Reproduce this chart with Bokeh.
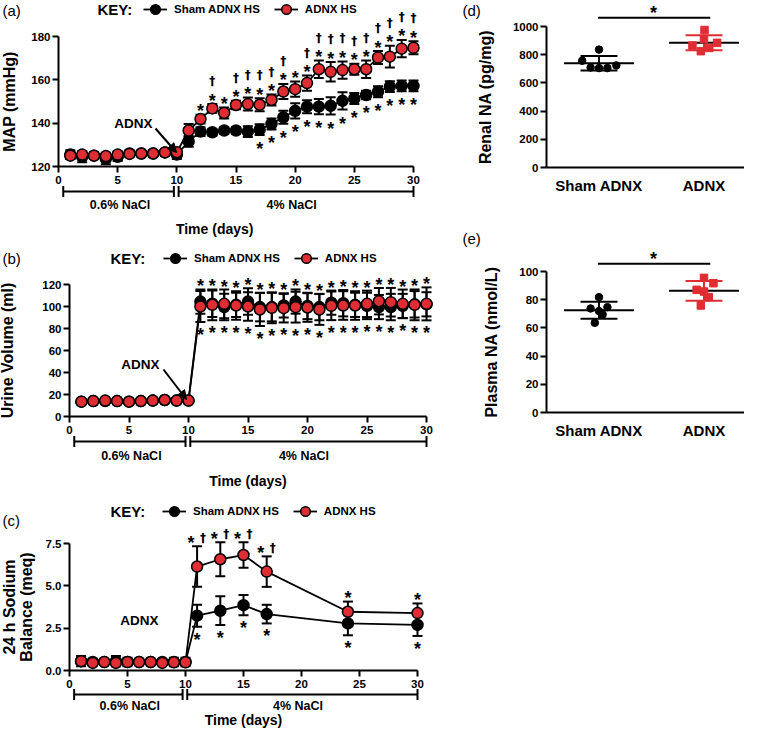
import numpy as np
from bokeh.plotting import figure
from bokeh.models import (Range1d, LinearAxis, FixedTicker, PrintfTickFormatter,
                          Label, Legend, LegendItem, Arrow, NormalHead)
from bokeh.layouts import row, column
from bokeh.core.properties import value
from bokeh.embed import file_html
from bokeh.resources import INLINE

FONT = "Liberation Sans"
DAGGER_FONT = "DejaVu Sans"
RED = "#de2d33"

# ------------------------------------------------------------------ data
days = list(range(1, 31))
time_ticks = [0, 5, 10, 15, 20, 25, 30]
series_names = ["Sham ADNX HS", "ADNX HS"]

# (a) MAP (mmHg)
map_sham = [125.5, 124.5, 125.0, 123.5, 124.5, 126.0, 126.0, 126.0, 126.5, 125.5,
            131.6, 136.1, 135.8, 136.6, 136.6, 136.1, 137.0, 139.6, 142.7, 145.7,
            147.6, 147.6, 148.0, 150.3, 151.4, 153.0, 154.5, 156.9, 157.2, 157.2]
map_sham_err = [2.0, 2.5, 1.5, 2.5, 2.0, 1.5, 1.0, 1.5, 1.5, 2.0,
                2.5, 2.0, 1.5, 1.5, 1.5, 2.5, 2.5, 2.5, 3.0, 3.5,
                3.0, 3.5, 4.0, 4.0, 2.5, 2.0, 2.5, 2.5, 2.5, 2.5]
map_adnx = [125.0, 125.5, 125.0, 124.8, 125.5, 125.8, 126.0, 126.0, 126.5, 126.6,
            136.6, 141.9, 146.8, 144.7, 148.4, 148.8, 148.5, 150.7, 154.6, 155.7,
            158.5, 164.9, 163.7, 164.5, 164.9, 164.9, 170.3, 170.7, 174.4, 174.8]
map_adnx_err = [1.5, 1.5, 1.0, 1.5, 1.5, 1.0, 1.0, 1.0, 1.0, 1.5,
                3.0, 2.0, 2.0, 2.5, 2.0, 3.0, 3.0, 2.5, 3.5, 3.5,
                3.5, 4.0, 4.5, 4.0, 2.5, 4.0, 3.0, 5.0, 4.0, 3.0]
map_star_adnx = [12, 13, 14, 15, 16, 17, 18, 19, 20, 21, 22, 23, 24, 25, 26, 27, 28, 29, 30]
map_dagger_adnx = [13, 15, 16, 17, 18, 19, 21, 22, 23, 24, 25, 26, 27, 28, 29, 30]
map_star_sham = [17, 18, 19, 20, 21, 22, 23, 24, 25, 26, 27, 28, 29, 30]

# (b) Urine volume (ml)
uv_sham = [13.5, 14.0, 14.0, 14.0, 13.5, 14.0, 14.5, 15.0, 14.5, 14.5,
           104.5, 102.5, 99.5, 101.5, 104.5, 99.5, 99.5, 101.0, 104.5, 100.5,
           99.5, 103.5, 103.0, 101.5, 100.5, 99.5, 99.5, 100.5, 102.0, 102.0]
uv_sham_err = [1.0, 1.0, 1.0, 1.0, 1.0, 1.0, 1.0, 1.0, 1.0, 1.0,
               11.0, 12.0, 12.0, 11.0, 12.0, 13.0, 13.0, 11.0, 11.0, 12.0,
               12.0, 11.0, 12.0, 11.0, 12.0, 11.0, 12.0, 11.0, 12.0, 11.0]
uv_adnx = [13.5, 14.0, 14.5, 14.0, 13.5, 14.0, 14.5, 15.0, 14.5, 14.5,
           100.0, 101.5, 102.4, 100.9, 100.0, 97.3, 98.8, 98.5, 99.4, 99.1,
           97.3, 100.6, 100.9, 100.9, 102.4, 104.8, 103.9, 102.4, 101.5, 102.4]
uv_adnx_err = [1.0, 1.0, 1.0, 1.0, 1.0, 1.0, 1.0, 1.0, 1.0, 1.0,
               14.0, 14.0, 13.0, 13.0, 13.0, 15.0, 14.0, 13.0, 14.0, 13.0,
               14.0, 13.0, 13.0, 13.0, 12.0, 12.0, 13.0, 13.0, 14.0, 15.0]
uv_star_days = [11, 12, 13, 14, 15, 16, 17, 18, 19, 20, 21, 22, 23, 24, 25, 26, 27, 28, 29, 30]

# (c) 24 h sodium balance (meq)
na_days = [1, 2, 3, 4, 5, 6, 7, 8, 9, 10, 11, 13, 15, 17, 24, 30]
na_sham = [0.55, 0.50, 0.50, 0.55, 0.50, 0.50, 0.50, 0.50, 0.50, 0.50, 3.24, 3.53, 3.86, 3.33, 2.78, 2.69]
na_sham_err = [0.30, 0.20, 0.15, 0.30, 0.25, 0.15, 0.15, 0.15, 0.25, 0.25, 0.65, 0.85, 0.60, 0.55, 0.70, 0.65]
na_adnx = [0.55, 0.45, 0.50, 0.45, 0.50, 0.50, 0.50, 0.45, 0.48, 0.48, 6.14, 6.57, 6.82, 5.84, 3.47, 3.39]
na_adnx_err = [0.15, 0.10, 0.10, 0.15, 0.10, 0.10, 0.10, 0.10, 0.15, 0.15, 1.20, 1.00, 0.75, 0.90, 0.60, 0.57]
na_star_dagger_adnx = [11, 13, 15, 17]
na_star_adnx = [24, 30]
na_star_sham = [11, 13, 15, 17, 24, 30]

# (d), (e) scatter groups
groups = ["Sham ADNX", "ADNX"]
renal_sham = [836, 757, 709, 705, 705, 724]
renal_adnx = [975, 910, 865, 825, 848, 884]
plasma_sham = [81.8, 73.8, 74.7, 71.9, 69.5, 63.6]
plasma_adnx = [95.5, 91.7, 87.0, 85.8, 81.8, 75.9]
renal_sig_level = 1062
plasma_sig_level = 105.5

# layout-only: horizontal spread of dots inside each group
renal_sham_dx = [0.0, -0.16, -0.08, 0.0, 0.08, 0.165]
renal_adnx_dx = [0.005, 0.0, -0.11, -0.03, 0.05, 0.125]
plasma_sham_dx = [0.0, -0.08, 0.08, 0.0, 0.035, -0.04]
plasma_adnx_dx = [0.0, 0.09, -0.07, 0.0, 0.045, -0.03]

phases = ["0.6% NaCl", "4% NaCl"]
phase_spans = [(0.4, 9.75), (10.15, 30.0)]
phase_label_x = [5.2, 19.7]


# ------------------------------------------------------------------ geometry helper
class Geo:
    """Maps page pixels to data for a figure whose frame fills the canvas."""
    def __init__(self, left, top, w, h, xp, yp):
        (px0, v0), (px1, v1) = xp
        (py0, u0), (py1, u1) = yp
        self.kx = (px1 - px0) / (v1 - v0)
        self.ky = (py1 - py0) / (u1 - u0)
        self.xp0, self.xv0, self.yp0, self.yv0 = px0, v0, py0, u0
        self.left, self.top, self.w, self.h = left, top, w, h

    def xv(self, px):
        return self.xv0 + (px - self.xp0) / self.kx

    def yv(self, py):
        return self.yv0 + (py - self.yp0) / self.ky

    def sx(self, px):
        return px - self.left

    def sy(self, py):
        return self.top + self.h - py

    def fig(self):
        p = figure(width=self.w, height=self.h,
                   x_range=Range1d(self.xv(self.left), self.xv(self.left + self.w)),
                   y_range=Range1d(self.yv(self.top + self.h), self.yv(self.top)),
                   output_backend="svg", toolbar_location=None, min_border=0,
                   x_axis_location=None, y_axis_location=None,
                   outline_line_color=None, background_fill_color="white",
                   border_fill_color="white")
        for g in p.grid:
            g.visible = False
        return p


def style_axis(ax, label_size="16px"):
    ax.axis_line_width = 2
    ax.axis_line_color = "black"
    ax.major_tick_line_width = 2
    ax.major_tick_line_color = "black"
    ax.major_tick_out = 6
    ax.major_tick_in = 0
    ax.minor_tick_line_color = None
    ax.major_label_text_font = FONT
    ax.major_label_text_font_style = "bold"
    ax.major_label_text_font_size = "11.5px"
    ax.major_label_text_color = "black"
    ax.major_label_standoff = 2
    ax.axis_label_text_font = FONT
    ax.axis_label_text_font_style = "bold"
    ax.axis_label_text_font_size = label_size
    ax.axis_label_text_color = "black"


def txt_label(p, x, y, text, size, style="bold", align="left", units="screen"):
    p.add_layout(Label(x=x, y=y, x_units=units, y_units=units, text=text,
                       text_font=FONT, text_font_size=size, text_font_style=style,
                       text_align=align, text_baseline="middle", text_color="black"))


def series(p, x, y, e, fill):
    lo = [a - b for a, b in zip(y, e)]
    hi = [a + b for a, b in zip(y, e)]
    p.segment(x0=x, y0=lo, x1=x, y1=hi, line_color="black", line_width=2)
    p.scatter(x=list(x) + list(x), y=lo + hi, marker="dash", size=10,
              line_color="black", line_width=2)
    ln = p.line(x=x, y=y, line_color="black", line_width=1.8)
    sc = p.scatter(x=x, y=y, marker="circle", size=11, fill_color=fill,
                   line_color="black", line_width=1.5)
    return ln, sc


def marks(p, x, y, t, yoff, xoff=0, size="18px", style="bold", font=FONT):
    p.text(x=x, y=y, text=[t] * len(x), text_align="center", text_baseline="middle",
           x_offset=xoff, y_offset=yoff, text_font=value(font), text_font_size=size,
           text_font_style=style, text_color="black")


def pick(xs, vals, errs, chosen, sign):
    idx = [xs.index(d) for d in chosen]
    return [xs[i] for i in idx], [vals[i] + sign * errs[i] for i in idx]


def time_panel(g, tag, x, s, se, r, re, yticks, ybounds, ylabel, ylab_standoff,
               key_y, key_x, leg_x, tag_y, bracket_py, phase_py, xlabel=None,
               xlabel_standoff=36, fmt=None):
    p = g.fig()
    xa = LinearAxis(fixed_location=ybounds[0], ticker=FixedTicker(ticks=time_ticks),
                    bounds=(0, 30))
    style_axis(xa, "14px")
    xa.major_label_standoff = 3
    if xlabel:
        xa.axis_label = xlabel
        xa.axis_label_standoff = xlabel_standoff
    p.add_layout(xa, "below")
    ya = LinearAxis(fixed_location=0, ticker=FixedTicker(ticks=yticks), bounds=ybounds,
                    axis_label=ylabel, axis_label_standoff=ylab_standoff)
    style_axis(ya)
    ya.axis_label_text_line_height = 1.0
    if fmt:
        ya.formatter = PrintfTickFormatter(format=fmt)
    p.add_layout(ya, "left")

    sl, ss = series(p, x, s, se, "black")
    rl, rs = series(p, x, r, re, RED)

    # phase brackets below the axis
    by = g.yv(bracket_py)
    for a, b in phase_spans:
        p.segment(x0=[a], y0=[by], x1=[b], y1=[by], line_color="black", line_width=2)
        p.scatter(x=[a, b], y=[by, by], marker="dash", angle=np.pi / 2, size=11,
                  line_color="black", line_width=2)
    p.text(x=phase_label_x, y=[g.yv(phase_py)] * 2, text=phases, text_align="center",
           text_baseline="middle", text_font=value(FONT), text_font_size="12.5px",
           text_font_style="bold", text_color="black")

    # KEY row
    txt_label(p, g.sx(2), g.sy(tag_y), tag, "15px", style="normal")
    txt_label(p, g.sx(key_x), g.sy(key_y), "KEY:", "15px")
    leg = Legend(items=[LegendItem(label=series_names[0], renderers=[sl, ss]),
                        LegendItem(label=series_names[1], renderers=[rl, rs])],
                 location=(g.sx(leg_x), g.sy(key_y) - 12), orientation="horizontal",
                 glyph_width=24, glyph_height=24, label_height=24, label_standoff=7,
                 spacing=14, padding=0, margin=0, border_line_color=None,
                 background_fill_alpha=0, label_text_font=FONT,
                 label_text_font_style="bold", label_text_font_size="11.5px",
                 label_text_color="black")
    p.add_layout(leg)
    return p


def adnx_note(p, g, cx, cy):
    p.add_layout(Label(x=g.xv(cx), y=g.yv(cy), text="ADNX", text_font=FONT,
                       text_font_size="13.5px", text_font_style="bold", text_align="center",
                       text_baseline="middle", text_color="black"))


# ------------------------------------------------------------------ (a)
ga = Geo(0, 0, 440, 240, [(58, 0), (413, 30)], [(166, 120), (36, 180)])
pa = time_panel(ga, "(a)", days, map_sham, map_sham_err, map_adnx, map_adnx_err,
                [120, 140, 160, 180], (120, 180), "MAP (mmHg)", 10,
                key_y=9, key_x=97, leg_x=143, tag_y=10, bracket_py=191, phase_py=204)
pa.add_layout(Label(x=13.2, y=ga.yv(228), text="Time (days)", text_font=FONT,
                    text_font_size="14px", text_font_style="bold", text_align="center",
                    text_baseline="middle", text_color="black"))
xs, ys = pick(days, map_adnx, map_adnx_err, map_star_adnx, +1)
marks(pa, xs, ys, "*", -3.5)
xs, ys = pick(days, map_adnx, map_adnx_err, map_dagger_adnx, +1)
marks(pa, xs, ys, "\u2020", -23, size="12px", font=DAGGER_FONT)
xs, ys = pick(days, map_sham, map_sham_err, map_star_sham, -1)
marks(pa, xs, ys, "*", 14)
adnx_note(pa, ga, 133, 123)
pa.add_layout(Arrow(end=NormalHead(size=9, fill_color="black", line_color="black"),
                    x_start=ga.xv(155), y_start=ga.yv(128), x_end=ga.xv(176), y_end=ga.yv(152),
                    line_width=2, line_color="black"))

# ------------------------------------------------------------------ (b)
gb = Geo(0, 240, 440, 250, [(69, 0), (426, 30)], [(416, 0), (284, 120)])
pb = time_panel(gb, "(b)", days, uv_sham, uv_sham_err, uv_adnx, uv_adnx_err,
                [0, 20, 40, 60, 80, 100, 120], (0, 120), "Urine Volume (ml)", 23,
                key_y=258, key_x=110, leg_x=163, tag_y=258, bracket_py=441, phase_py=455,
                xlabel="Time (days)", xlabel_standoff=36)
top = [max(a + b, c + d) for a, b, c, d in zip(uv_sham, uv_sham_err, uv_adnx, uv_adnx_err)]
bot = [min(a - b, c - d) for a, b, c, d in zip(uv_sham, uv_sham_err, uv_adnx, uv_adnx_err)]
idx = [days.index(d) for d in uv_star_days]
marks(pb, uv_star_days, [top[i] for i in idx], "*", -3)
marks(pb, uv_star_days, [bot[i] for i in idx], "*", 13)
adnx_note(pb, gb, 140, 364)
pb.add_layout(Arrow(end=NormalHead(size=9, fill_color="black", line_color="black"),
                    x_start=gb.xv(163), y_start=gb.yv(369), x_end=gb.xv(186), y_end=gb.yv(399),
                    line_width=2, line_color="black"))

# ------------------------------------------------------------------ (c)
gc = Geo(0, 490, 440, 238, [(69, 0), (417, 30)], [(670, 0), (543, 7.5)])
pc = time_panel(gc, "(c)", na_days, na_sham, na_sham_err, na_adnx, na_adnx_err,
                [0, 2.5, 5.0, 7.5], (0, 7.5), "24 h Sodium\nBalance (meq)", 8,
                key_y=511, key_x=110, leg_x=162, tag_y=520, bracket_py=694, phase_py=705,
                xlabel="Time (days)", xlabel_standoff=21, fmt="%.1f")
xs, ys = pick(na_days, na_adnx, na_adnx_err, na_star_dagger_adnx, +1)
marks(pc, xs, ys, "*", -3.5, xoff=-6)
marks(pc, xs, ys, "\u2020", -8, xoff=6, size="12px", font=DAGGER_FONT)
xs, ys = pick(na_days, na_adnx, na_adnx_err, na_star_adnx, +1)
marks(pc, xs, ys, "*", -3.5)
xs, ys = pick(na_days, na_sham, na_sham_err, na_star_sham, -1)
marks(pc, xs, ys, "*", 13)
adnx_note(pc, gc, 139, 620)


# ------------------------------------------------------------------ (d), (e)
def dot_panel(g, tag, tag_y, sham, sham_dx, adnx, adnx_dx, yticks, ybounds, ylabel,
              standoff, sig_level):
    p = g.fig()
    ya = LinearAxis(fixed_location=0.5, ticker=FixedTicker(ticks=yticks), bounds=ybounds,
                    axis_label=ylabel, axis_label_standoff=standoff)
    style_axis(ya)
    p.add_layout(ya, "left")
    xa = LinearAxis(fixed_location=0, ticker=FixedTicker(ticks=[1, 2]), bounds=(0.5, 2.5),
                    major_label_overrides={1: groups[0], 2: groups[1]})
    style_axis(xa)
    xa.major_tick_line_color = None
    xa.major_tick_out = 0
    xa.major_label_text_font_size = "15px"
    xa.major_label_standoff = 9
    p.add_layout(xa, "below")
    spec = [(sham, sham_dx, "circle", "black"), (adnx, adnx_dx, "square", RED)]
    for i, (vals, dx, mk, col) in enumerate(spec):
        c = i + 1
        m = float(np.mean(vals))
        sd = float(np.std(vals, ddof=1))
        p.segment(x0=[c, c - 0.176, c - 0.176], y0=[m - sd, m + sd, m - sd],
                  x1=[c, c + 0.176, c + 0.176], y1=[m + sd, m + sd, m - sd],
                  line_color=col, line_width=2)
        p.segment(x0=[c - 0.333], y0=[m], x1=[c + 0.333], y1=[m], line_color="black",
                  line_width=2)
        p.scatter(x=[c + d for d in dx], y=vals, marker=mk, size=7.5, fill_color=col,
                  line_color=col)
    p.segment(x0=[0.99], y0=[sig_level], x1=[2.06], y1=[sig_level], line_color="black",
              line_width=2)
    marks(p, [1.52], [sig_level], "*", -5)
    txt_label(p, g.sx(462), g.sy(tag_y), tag, "15px", style="normal")
    return p


gd = Geo(440, 0, 304, 215, [(598.5, 1), (703.5, 2)], [(167, 0), (26, 1000)])
pd_ = dot_panel(gd, "(d)", 10, renal_sham, renal_sham_dx, renal_adnx, renal_adnx_dx,
                [0, 200, 400, 600, 800, 1000], (0, 1000), "Renal NA (pg/mg)", 16,
                renal_sig_level)
ge = Geo(440, 215, 304, 230, [(598.5, 1), (703.5, 2)], [(412, 0), (271, 100)])
pe = dot_panel(ge, "(e)", 238, plasma_sham, plasma_sham_dx, plasma_adnx, plasma_adnx_dx,
               [0, 20, 40, 60, 80, 100], (0, 100), "Plasma NA (nmol/L)", 16,
               plasma_sig_level)

layout = row(column(pa, pb, pc), column(pd_, pe))
open("out.html", "w").write(file_html(layout, INLINE))
